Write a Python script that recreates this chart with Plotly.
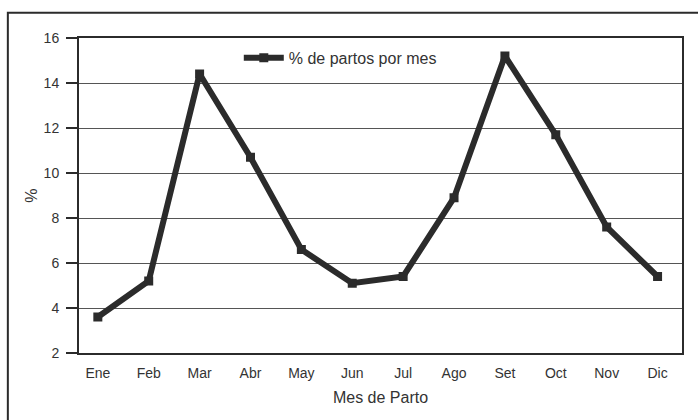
import plotly.graph_objects as go

# Monthly share of births (%)
meses = ["Ene", "Feb", "Mar", "Abr", "May", "Jun", "Jul", "Ago", "Set", "Oct", "Nov", "Dic"]
partos_pct = [3.6, 5.2, 14.4, 10.7, 6.6, 5.1, 5.4, 8.9, 15.2, 11.7, 7.6, 5.4]

y_ticks = [2, 4, 6, 8, 10, 12, 14, 16]

ink = "#2b2b2b"
txt = "#333333"
font_family = "Liberation Sans, Arial, sans-serif"

fig = go.Figure()
fig.add_trace(go.Scatter(
    x=list(range(len(meses))),
    y=partos_pct,
    mode="lines+markers",
    name="% de partos por mes",
    line=dict(color=ink, width=6),
    marker=dict(symbol="square", size=9, color=ink),
))

# Outer frame around the whole figure
fig.add_shape(type="rect", xref="paper", yref="paper",
              x0=-0.118, x1=1.04, y0=-0.35, y1=1.08,
              line=dict(color=ink, width=2), fillcolor="rgba(0,0,0,0)",
              layer="below")

fig.update_layout(
    width=698, height=420,
    margin=dict(l=79, r=16, t=38, b=67),
    paper_bgcolor="white",
    plot_bgcolor="white",
    font=dict(family=font_family, size=14, color=txt),
    showlegend=True,
    legend=dict(x=0.265, y=0.937, xanchor="left", yanchor="middle",
                bgcolor="rgba(0,0,0,0)", font=dict(size=16, color=txt),
                itemwidth=40),
    xaxis=dict(
        tickmode="array",
        tickvals=list(range(len(meses))),
        ticktext=meses,
        range=[-0.37, 11.48],
        showgrid=False, zeroline=False,
        showline=True, linecolor=ink, linewidth=2, mirror=True,
        ticks="", ticklabelstandoff=6,
        title=dict(text="Mes de Parto", font=dict(size=16, color=txt), standoff=12),
    ),
    yaxis=dict(
        tickmode="array",
        tickvals=y_ticks,
        range=[2, 16],
        showgrid=True, gridcolor="#555555", gridwidth=1,
        zeroline=False,
        showline=True, linecolor=ink, linewidth=2, mirror=True,
        ticks="outside", ticklen=11, tickcolor=ink, tickwidth=1.5,
        ticklabelstandoff=4,
        title=dict(text="%", font=dict(size=16, color=txt), standoff=2),
    ),
)

fig.write_html("out.html")
